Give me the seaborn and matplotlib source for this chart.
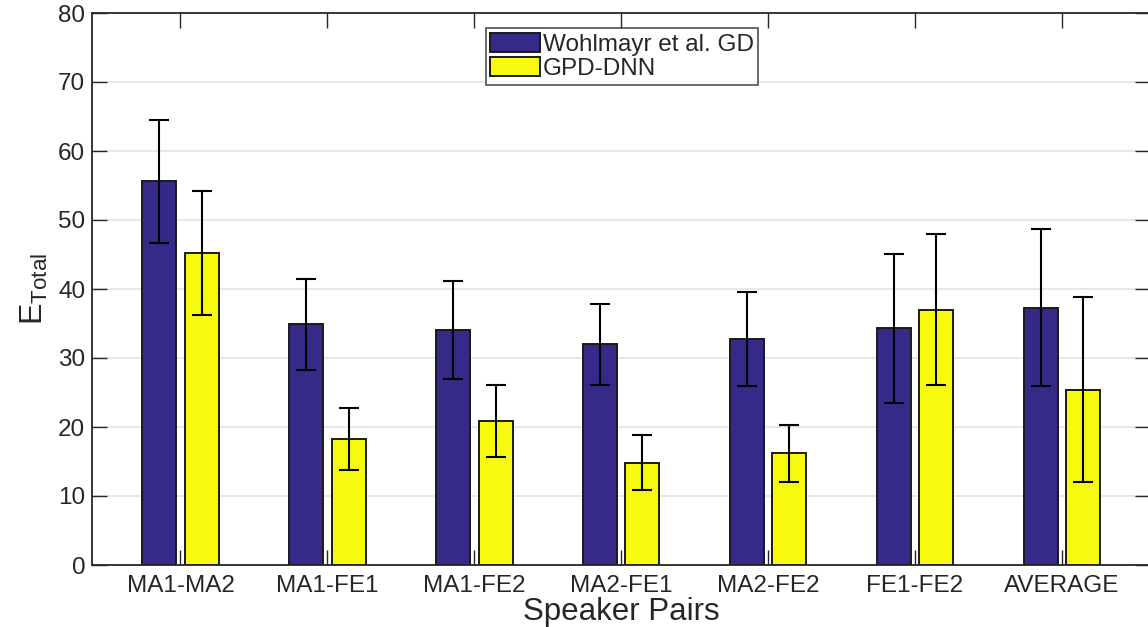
import matplotlib
matplotlib.use("Agg")
import matplotlib.pyplot as plt
import seaborn as sns
import pandas as pd

# Speaker pairs and the two methods' mean error with spread
pairs = ["MA1-MA2", "MA1-FE1", "MA1-FE2", "MA2-FE1", "MA2-FE2", "FE1-FE2", "AVERAGE"]
methods = ["Wohlmayr et al. GD", "GPD-DNN"]
gd_mean = [55.6, 34.9, 34.1, 32.0, 32.8, 34.3, 37.3]
gd_err = [8.95, 6.6, 7.1, 5.85, 6.8, 10.75, 11.4]
dnn_mean = [45.2, 18.3, 20.9, 14.85, 16.2, 37.0, 25.4]
dnn_err = [8.95, 4.5, 5.25, 4.05, 4.15, 10.9, 13.4]
y_ticks = [0, 10, 20, 30, 40, 50, 60, 70, 80]

colors = ["#352a87", "#f8fa0d"]
edge = "#1a1a1a"

sns.set_theme(style="white")
plt.rcParams["font.family"] = ["Liberation Sans", "DejaVu Sans"]
plt.rcParams["mathtext.fontset"] = "custom"
plt.rcParams["mathtext.rm"] = "Liberation Sans"
plt.rcParams["mathtext.default"] = "regular"

df = pd.DataFrame({
    "pair": pairs * 2,
    "method": [methods[0]] * len(pairs) + [methods[1]] * len(pairs),
    "value": gd_mean + dnn_mean,
})

fig = plt.figure(figsize=(11.48, 6.27), dpi=100)
ax = fig.add_axes([92.3 / 1148, 1 - 565 / 627, (1150 - 92.3) / 1148, (565 - 13) / 627])

for y in y_ticks[1:-1]:
    ax.axhline(y, color="#e3e3e3", lw=1.2, zorder=0)

sns.barplot(data=df, x="pair", y="value", hue="method", hue_order=methods,
            order=pairs, palette=colors, width=0.58, gap=0.2,
            edgecolor=edge, linewidth=1.4, errorbar=None, ax=ax, zorder=2,
            saturation=1)

# error bars on top of each bar
for cont, errs in zip(ax.containers, [gd_err, dnn_err]):
    xs = [p.get_x() + p.get_width() / 2 for p in cont.patches]
    ys = [p.get_height() for p in cont.patches]
    ax.errorbar(xs, ys, yerr=errs, fmt="none", ecolor="black",
                elinewidth=1.5, capsize=7.2, capthick=1.5, zorder=3)

ax.set_xlim(-0.6, 6.6)
ax.set_ylim(0, 80)
ax.set_yticks(y_ticks)
ax.set_xlabel("Speaker Pairs", fontsize=22.5, color="#262626", labelpad=0)
ax.set_ylabel(r"E$_{\mathrm{Total}}$", fontsize=23, color="#262626", labelpad=6)

for s in ax.spines.values():
    s.set_color("#262626")
    s.set_linewidth(1.3)
    s.set_visible(True)

ax.tick_params(axis="both", which="major", direction="in", length=11, width=1.0,
               color="#262626", labelsize=17.5, labelcolor="#262626",
               top=True, right=True, bottom=True, left=True)
ax.tick_params(axis="x", pad=7)
ax.tick_params(axis="y", pad=5)

leg = ax.legend(loc="upper center", bbox_to_anchor=(0.5008, 0.973),
                fontsize=17.5, frameon=True, fancybox=False, edgecolor="#262626",
                handlelength=2.05, handleheight=0.85, handletextpad=0.1,
                borderpad=0.2, labelspacing=0.05, borderaxespad=0.0)
leg.get_frame().set_linewidth(1.2)
for h in leg.legend_handles:
    h.set_edgecolor(edge)
    h.set_linewidth(1.4)

fig.savefig("out.png", dpi=100)
